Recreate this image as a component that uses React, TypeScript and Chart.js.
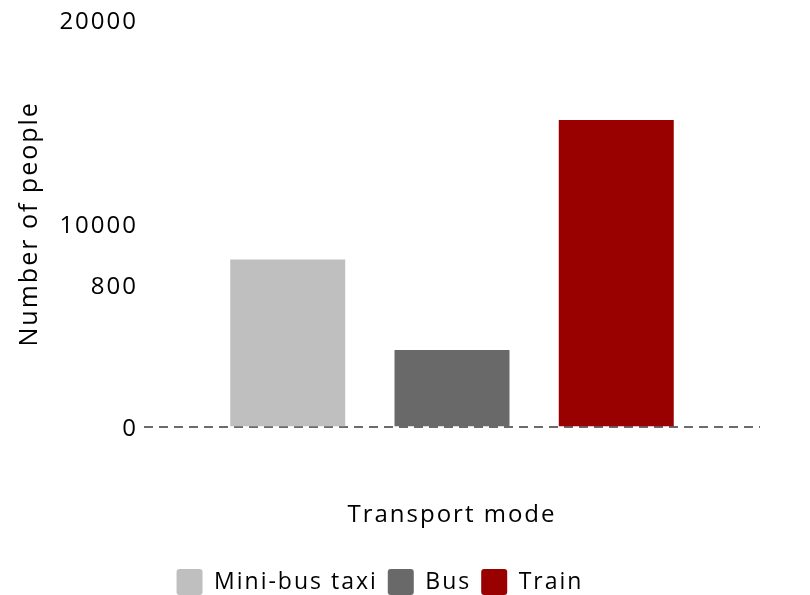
import React, { useEffect, useRef } from "react";
import { Chart, registerables } from "chart.js";

Chart.register(...registerables);

const categories = ["Transport mode"];
const seriesNames = ["Mini-bus taxi", "Bus", "Train"];
const miniBusTaxi = [8250];
const bus = [3800];
const train = [15100];
const seriesColors = ["#bfbfbf", "#696969", "#990000"];
const tickValues = [0, 7000, 10000, 20000];
const tickLabels = ["0", "800", "10000", "20000"];

const FONT = "'Open Sans', 'Noto Sans', sans-serif";

const spacingPlugin = {
  id: "letterSpacing",
  beforeUpdate(chart: any) {
    chart.ctx.letterSpacing = "2px";
  },
  beforeLayout(chart: any) {
    chart.ctx.letterSpacing = "2px";
  },
  beforeDraw(chart: any) {
    chart.ctx.letterSpacing = "2px";
  },
};

export default function App() {
  const ref = useRef<HTMLCanvasElement | null>(null);

  useEffect(() => {
    document.body.style.margin = "0";
    const canvas = ref.current;
    if (!canvas) return;
    const values = [miniBusTaxi, bus, train];
    const chart = new Chart(canvas, {
      type: "bar",
      data: {
        labels: categories,
        datasets: seriesNames.map((name, i) => ({
          label: name,
          data: values[i],
          backgroundColor: seriesColors[i],
          borderWidth: 0,
          categoryPercentage: 0.8,
          barPercentage: 0.7,
        })),
      },
      plugins: [spacingPlugin],
      options: {
        animation: false,
        responsive: false,
        maintainAspectRatio: false,
        layout: { padding: { top: 13, right: 50, left: 0, bottom: -10 } },
        plugins: {
          tooltip: { enabled: false },
          legend: {
            position: "bottom",
            labels: {
              boxWidth: 26,
              boxHeight: 26,
              padding: 10,
              color: "#000",
              font: { family: FONT, size: 23 },
              useBorderRadius: true,
              borderRadius: 3,
            },
          },
        },
        scales: {
          x: {
            grid: { display: false },
            border: { display: false },
            ticks: { display: false },
            title: {
              display: true,
              text: "Transport mode",
              color: "#000",
              font: { family: FONT, size: 24 },
              padding: { top: 66, bottom: 29 },
            },
          },
          y: {
            min: 0,
            max: 20000,
            border: { display: false, dash: [9, 6] },
            afterFit: (scale: any) => {
              scale.width = 144;
            },
            afterBuildTicks: (scale: any) => {
              scale.ticks = tickValues.map((v) => ({ value: v }));
            },
            grid: {
              drawTicks: false,
              color: (ctx: any) => (ctx.tick && ctx.tick.value === 0 ? "#6b6b6b" : "rgba(0,0,0,0)"),
              lineWidth: 2,
            },
            ticks: {
              padding: 6,
              labelOffset: 2,
              color: "#000",
              font: { family: FONT, size: 24 },
              callback: (value: any) => {
                const idx = tickValues.indexOf(Number(value));
                return idx >= 0 ? tickLabels[idx] : "";
              },
            },
            title: {
              display: true,
              text: "Number of people",
              color: "#000",
              font: { family: FONT, size: 25 },
              padding: { top: 15, bottom: 0 },
            },
          },
        },
      },
    });
    return () => chart.destroy();
  }, []);

  return (
    <div style={{ width: 810, height: 595 }}>
      <canvas ref={ref} width={810} height={595} style={{ display: "block" }} />
    </div>
  );
}
